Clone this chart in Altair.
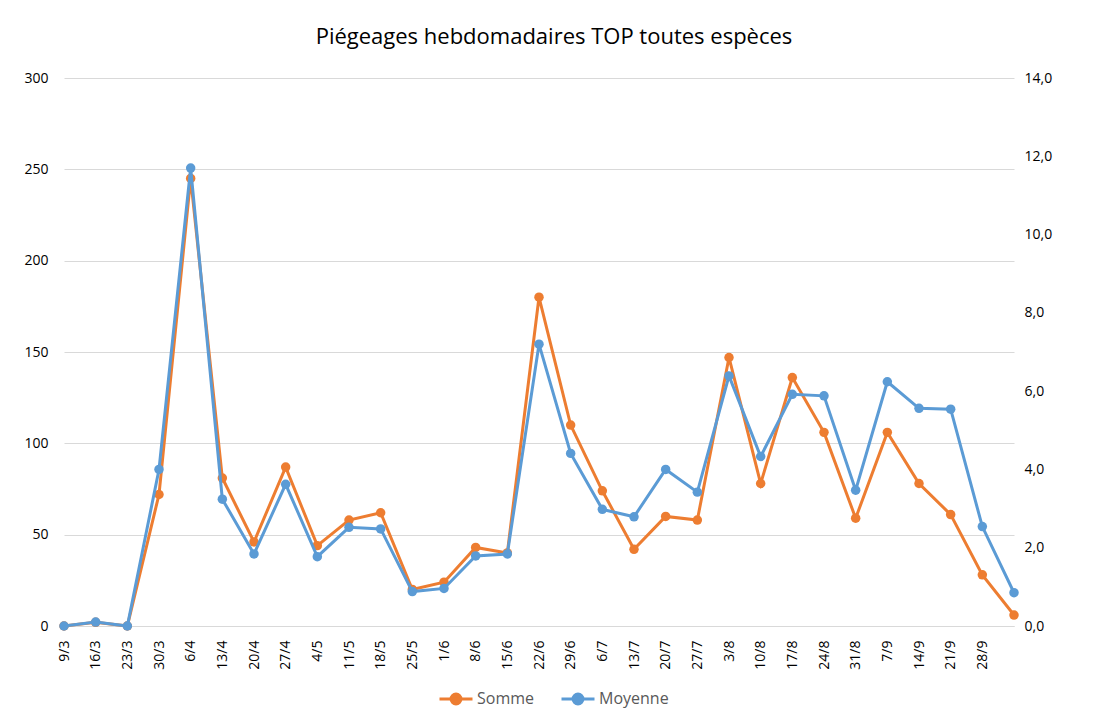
import altair as alt
import pandas as pd

semaines = ["9/3", "16/3", "23/3", "30/3", "6/4", "13/4", "20/4", "27/4", "4/5", "11/5",
            "18/5", "25/5", "1/6", "8/6", "15/6", "22/6", "29/6", "6/7", "13/7", "20/7",
            "27/7", "3/8", "10/8", "17/8", "24/8", "31/8", "7/9", "14/9", "21/9", "28/9", " "]

somme = [0, 2, 0, 72, 245, 81, 46, 87, 44, 58,
         62, 20, 24, 43, 40, 180, 110, 74, 42, 60,
         58, 147, 78, 136, 106, 59, 106, 78, 61, 28, 6]

moyenne = [0.0, 0.1, 0.0, 4.0, 11.7, 3.24, 1.84, 3.62, 1.77, 2.52,
           2.48, 0.88, 0.96, 1.79, 1.84, 7.2, 4.41, 2.98, 2.79, 4.0,
           3.42, 6.39, 4.33, 5.92, 5.88, 3.47, 6.24, 5.56, 5.54, 2.54, 0.85]

series_names = ["Somme", "Moyenne"]
series_colors = ["#ED7D31", "#5B9BD5"]

df_s = pd.DataFrame({"semaine": semaines, "valeur": somme, "serie": "Somme"})
df_m = pd.DataFrame({"semaine": semaines, "valeur": moyenne, "serie": "Moyenne"})

FONT = "Open Sans"

x_enc = alt.X(
    "semaine:N", sort=semaines,
    scale=alt.Scale(type="point", padding=0),
    axis=alt.Axis(title=None, labelAngle=270, labelAlign="right", labelBaseline="middle",
                  labelPadding=14, ticks=False, domainColor="#D9D9D9", domainWidth=1,
                  labelFontSize=14, labelColor="#000000", labelFont=FONT, grid=False,
                  labelOverlap=False),
)

color_enc = alt.Color(
    "serie:N",
    scale=alt.Scale(domain=series_names, range=series_colors),
    legend=alt.Legend(
        title=None, orient="none", direction="horizontal", legendX=374, legendY=603,
        symbolType="M-1,0H1M-0.3,0A0.3,0.3,0,1,1,0.3,0A0.3,0.3,0,1,1,-0.3,0Z",
        symbolSize=1089, symbolStrokeWidth=3, labelFontSize=16, labelColor="#595959",
        labelFont=FONT, columnPadding=20, labelOffset=3,
    ),
)

base_mark = dict(strokeWidth=3, point=alt.OverlayMarkDef(filled=True, size=90))

somme_layer = alt.Chart(df_s).mark_line(**base_mark).encode(
    x=x_enc,
    y=alt.Y("valeur:Q", scale=alt.Scale(domain=[0, 300]),
            axis=alt.Axis(title=None, values=[0, 50, 100, 150, 200, 250, 300], grid=True,
                          gridColor="#D9D9D9", gridWidth=1, domain=False, ticks=False,
                          labelPadding=16, labelFontSize=14, labelColor="#000000",
                          labelFont=FONT, minExtent=40, maxExtent=40)),
    color=color_enc,
)

moyenne_layer = alt.Chart(df_m).mark_line(**base_mark).encode(
    x=x_enc,
    y=alt.Y("valeur:Q", scale=alt.Scale(domain=[0, 14]),
            axis=alt.Axis(title=None, orient="right", values=[0, 2, 4, 6, 8, 10, 12, 14],
                          grid=False, domain=False, ticks=False, labelPadding=10,
                          labelFontSize=14, labelColor="#000000", labelFont=FONT,
                          labelExpr="replace(format(datum.value, '.1f'), '.', ',')")),
    color=color_enc,
)

chart = alt.layer(somme_layer, moyenne_layer).resolve_scale(y="independent").properties(
    width=950,
    height=548,
    title=alt.TitleParams("Piégeages hebdomadaires TOP toutes espèces", fontSize=22,
                          font=FONT, fontWeight="normal", color="#000000", anchor="middle",
                          offset=22, dx=15),
    padding={"left": 15, "top": 18, "right": 5, "bottom": 5},
).configure_view(stroke=None)

chart.save("out.html", embed_options={"renderer": "svg", "actions": False})
